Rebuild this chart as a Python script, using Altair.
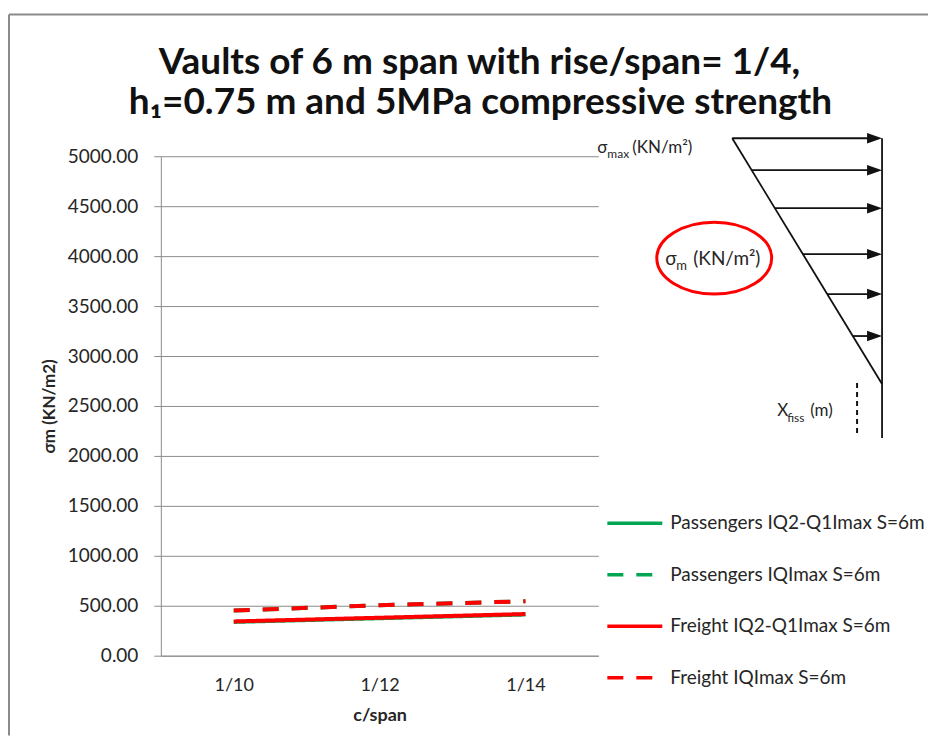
import altair as alt
import pandas as pd

# ---------------- data ----------------
categories = ["1/10", "1/12", "1/14"]
series_names = [
    "Passengers IQ2-Q1Imax S=6m",
    "Passengers IQImax S=6m",
    "Freight IQ2-Q1Imax S=6m",
    "Freight IQImax S=6m",
]
passengers_diff = [338, 375, 412]
passengers_max = [452, 505, 545]
freight_diff = [343, 380, 417]
freight_max = [452, 505, 545]
series_values = [passengers_diff, passengers_max, freight_diff, freight_max]
y_ticks = [0, 500, 1000, 1500, 2000, 2500, 3000, 3500, 4000, 4500, 5000]

title_lines = ["Vaults of 6 m span with rise/span= 1/4,",
               "h\u2081=0.75 m and 5MPa compressive strength"]

# ---------------- styles ----------------
series_colors = ["#00a651", "#00a651", "#ff0000", "#ff0000"]
series_dash = [[1, 0], [16, 13], [1, 0], [16, 13]]
GRID = "#8c8c8c"
TXT = "#262626"
FONT = "Lato"
W, H = 438, 500

rows = []
for name, vals in zip(series_names, series_values):
    for c, v in zip(categories, vals):
        rows.append({"series": name, "c_span": c, "value": v})
df = pd.DataFrame(rows)

x_enc = alt.X(
    "c_span:N", sort=categories,
    scale=alt.Scale(type="point", padding=0.5),
    axis=alt.Axis(title="c/span", labelAngle=0, ticks=False, domainColor=GRID,
                  labelFontSize=18, labelPadding=21, labelColor=TXT, labelFont=FONT,
                  titleFontSize=18, titleFontWeight="bold", titleFont=FONT,
                  titleColor=TXT, titlePadding=12, grid=False),
)
y_enc = alt.Y(
    "value:Q", scale=alt.Scale(domain=[0, 5000]),
    axis=alt.Axis(title="\u03c3m (KN/m2)", values=y_ticks, format=".2f", tickSize=7,
                  tickColor=GRID, domainColor=GRID, gridColor=GRID, grid=True,
                  labelFontSize=19, labelPadding=16, labelColor=TXT, labelFont=FONT,
                  titleFontSize=17, titleFontWeight="bold", titleFont=FONT,
                  titleColor=TXT, titlePadding=9),
)
color_enc = alt.Color("series:N", scale=alt.Scale(domain=series_names, range=series_colors),
                      legend=alt.Legend(title=None))
dash_enc = alt.StrokeDash("series:N", scale=alt.Scale(domain=series_names, range=series_dash),
                          legend=alt.Legend(title=None))

series_layers = []
for name in series_names:
    series_layers.append(
        alt.Chart(df).transform_filter(alt.datum.series == name)
        .mark_line(strokeWidth=4)
        .encode(x=x_enc, y=y_enc, color=color_enc, strokeDash=dash_enc)
    )
main = alt.layer(*series_layers)

# ---------------- decorative stress diagram (pixel geometry) ----------------
diag_top, diag_tip_y = -18, 228
diag_left, diag_right = 572, 722
arrow_ys = [-18, 14, 52, 98, 138, 180]

rule_rows = [
    {"x": diag_right, "y": diag_top, "x2": diag_right, "y2": 282},
    {"x": diag_left, "y": diag_top, "x2": diag_right, "y2": diag_tip_y},
]
for ay in arrow_ys:
    xs = diag_left + (ay - diag_top) * (diag_right - diag_left) / (diag_tip_y - diag_top)
    rule_rows.append({"x": xs, "y": ay, "x2": diag_right - 8, "y2": ay})
# chart frame (top and left borders)
frame_rows = [
    {"x": -152, "y": -142, "x2": 768, "y2": -142},
    {"x": -152, "y": -142, "x2": -152, "y2": 580},
]
rules_df = pd.DataFrame(rule_rows)
frame_df = pd.DataFrame(frame_rows)
dash_df = pd.DataFrame([{"x": 697, "y": 227, "x2": 697, "y2": 280}])

def px(field):
    return alt.X(field + ":Q", scale=None, axis=None)

def py(field):
    return alt.Y(field + ":Q", scale=None, axis=None)

diagram_rules = alt.Chart(rules_df).mark_rule(color="#111111", strokeWidth=1.8).encode(
    x=px("x"), y=py("y"), x2="x2:Q", y2="y2:Q")
frame_rules = alt.Chart(frame_df).mark_rule(color="#8a8a8a", strokeWidth=2).encode(
    x=px("x"), y=py("y"), x2="x2:Q", y2="y2:Q")
dash_rule = alt.Chart(dash_df).mark_rule(color="#111111", strokeWidth=2, strokeDash=[5, 4]).encode(
    x=px("x"), y=py("y"), x2="x2:Q", y2="y2:Q")

heads_df = pd.DataFrame([{"x": diag_right, "y": ay} for ay in arrow_ys])
arrow_heads = alt.Chart(heads_df).mark_point(
    shape="M 0 0 L -2 -0.7 L -2 0.7 Z", filled=True, color="#111111", size=225, opacity=1
).encode(x=px("x"), y=py("y"))

ellipse_df = pd.DataFrame([{"x": 554, "y": 102}])
ellipse = alt.Chart(ellipse_df).mark_point(
    shape="M -1 0 A 1 0.626 0 1 0 1 0 A 1 0.626 0 1 0 -1 0 Z",
    filled=False, color="#ff0000", strokeWidth=3, size=13225, opacity=1
).encode(x=px("x"), y=py("y"))

ann_df = pd.DataFrame([
    {"x": 437, "y": -3, "t": "\u03c3", "s": 17},
    {"x": 447, "y": 2, "t": "max", "s": 12},
    {"x": 472, "y": -3, "t": "(KN/m\u00b2)", "s": 17},
    {"x": 505, "y": 109, "t": "\u03c3", "s": 19},
    {"x": 516, "y": 114, "t": "m", "s": 13},
    {"x": 533, "y": 109, "t": "(KN/m\u00b2)", "s": 19},
    {"x": 617, "y": 260, "t": "X", "s": 17},
    {"x": 627, "y": 266, "t": "fiss", "s": 12},
    {"x": 650, "y": 260, "t": "(m)", "s": 17},
])
annotations = alt.Chart(ann_df).mark_text(
    align="left", baseline="alphabetic", font=FONT, color=TXT
).encode(x=px("x"), y=py("y"), text="t:N", size=alt.Size("s:Q", scale=None))

title_df = pd.DataFrame([
    {"x": 319, "y": -82, "t": title_lines[0]},
    {"x": 320, "y": -42, "t": title_lines[1]},
])
title_marks = alt.Chart(title_df).mark_text(
    align="center", baseline="alphabetic", font=FONT, fontWeight="bold",
    fontSize=37, color="#111111"
).encode(x=px("x"), y=py("y"), text="t:N")

chart = alt.layer(
    frame_rules, main, diagram_rules, dash_rule, arrow_heads, ellipse,
    annotations, title_marks
).properties(
    width=W, height=H,
    padding={"left": 0, "top": 5, "right": 0, "bottom": 0},
).configure_view(stroke=None).configure_legend(
    orient="none", legendX=445, legendY=338, symbolType="stroke",
    symbolSize=3025, symbolStrokeWidth=3.5, labelFontSize=19, labelFont=FONT,
    labelColor=TXT, labelLimit=400, labelOffset=6, rowPadding=11.5,
)

chart.save("out.html", embed_options={"renderer": "svg", "actions": False})
